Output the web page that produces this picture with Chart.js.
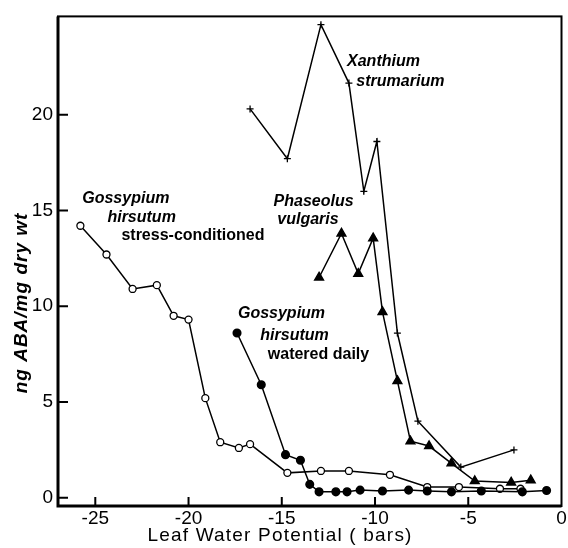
<!DOCTYPE html>
<html>
<head>
<meta charset="utf-8">
<script src="https://cdn.jsdelivr.net/npm/chart.js@4.4.1/dist/chart.umd.min.js"></script>
<style>
  html, body { margin: 0; padding: 0; background: #fff; }
  canvas { display: block; }
</style>
</head>
<body>
<canvas id="chart" width="568" height="548"></canvas>
<script>
// Axis ticks
const xTicks = [-25, -20, -15, -10, -5, 0];
const yTicks = [0, 5, 10, 15, 20];

// Gossypium hirsutum, stress-conditioned (open circles)
const stressX = [-25.8, -24.4, -23.0, -21.7, -20.8, -20.0, -19.1, -18.3, -17.3, -16.7, -14.7, -12.9, -11.4, -9.2, -7.2, -5.5, -3.3, -2.2];
const stressY = [14.2, 12.7, 10.9, 11.1, 9.5, 9.3, 5.2, 2.9, 2.6, 2.8, 1.3, 1.4, 1.4, 1.2, 0.56, 0.56, 0.47, 0.47];

// Gossypium hirsutum, watered daily (filled circles)
const wateredX = [-17.4, -16.1, -14.8, -14.0, -13.5, -13.0, -12.1, -11.5, -10.8, -9.6, -8.2, -7.2, -5.9, -4.3, -2.1, -0.8];
const wateredY = [8.6, 5.9, 2.25, 1.96, 0.7, 0.31, 0.31, 0.31, 0.4, 0.35, 0.4, 0.35, 0.31, 0.35, 0.31, 0.38];

// Xanthium strumarium (plus marks)
const xanthX = [-16.7, -14.7, -12.9, -11.4, -10.6, -9.9, -8.8, -7.7, -5.4, -2.55];
const xanthY = [20.3, 17.7, 24.7, 21.65, 16.0, 18.6, 8.6, 4.0, 1.6, 2.5];

// Phaseolus vulgaris (filled triangles)
const phasX = [-13.0, -11.8, -10.9, -10.1, -9.6, -8.8, -8.1, -7.1, -5.9, -4.65, -2.7, -1.65];
const phasY = [11.5, 13.8, 11.7, 13.55, 9.7, 6.1, 2.95, 2.7, 1.8, 0.87, 0.8, 0.92];

// Text labels (anchored in data units)
const notes = [
  { text: "Gossypium", x: -25.7, y: 15.6, font: "bold italic 16px 'Liberation Sans'", align: "left" },
  { text: "hirsutum", x: -24.35, y: 14.65, font: "bold italic 16px 'Liberation Sans'", align: "left" },
  { text: "stress-conditioned", x: -23.6, y: 13.7, font: "bold 16px 'Liberation Sans'", align: "left" },
  { text: "Xanthium", x: -11.5, y: 22.75, font: "bold italic 16px 'Liberation Sans'", align: "left" },
  { text: "strumarium", x: -11.0, y: 21.75, font: "bold italic 16px 'Liberation Sans'", align: "left" },
  { text: "Phaseolus", x: -11.15, y: 15.45, font: "bold italic 16px 'Liberation Sans'", align: "right" },
  { text: "vulgaris", x: -11.95, y: 14.5, font: "bold italic 16px 'Liberation Sans'", align: "right" },
  { text: "Gossypium", x: -17.35, y: 9.6, font: "bold italic 16px 'Liberation Sans'", align: "left" },
  { text: "hirsutum", x: -16.15, y: 8.45, font: "bold italic 16px 'Liberation Sans'", align: "left" },
  { text: "watered daily", x: -15.75, y: 7.5, font: "bold 16px 'Liberation Sans'", align: "left" },
];

const pts = (xs, ys) => xs.map((x, i) => ({ x, y: ys[i] }));

// Box frame, inward ticks, titles and the species notes.
const framePlugin = {
  id: "frame",
  afterDraw(chart) {
    const { ctx, chartArea: a, scales: { x, y } } = chart;
    ctx.save();
    ctx.strokeStyle = "#000";
    ctx.lineWidth = 2;
    ctx.strokeRect(a.left, a.top, a.right - a.left, a.bottom - a.top);
    // heavier bottom and left axes, as in the print
    ctx.lineWidth = 3;
    ctx.beginPath();
    ctx.moveTo(a.left, a.top);
    ctx.lineTo(a.left, a.bottom);
    ctx.lineTo(a.right, a.bottom);
    ctx.stroke();

    ctx.lineWidth = 2;
    ctx.beginPath();
    xTicks.forEach((v) => {
      const px = x.getPixelForValue(v);
      if (px < a.right - 2) {
        ctx.moveTo(px, a.bottom);
        ctx.lineTo(px, a.bottom - 9);
      }
    });
    yTicks.forEach((v) => {
      const py = y.getPixelForValue(v);
      ctx.moveTo(a.left, py);
      ctx.lineTo(a.left + 10, py);
    });
    ctx.stroke();

    ctx.fillStyle = "#000";
    ctx.textBaseline = "middle";
    notes.forEach((n) => {
      ctx.font = n.font;
      ctx.textAlign = n.align;
      ctx.fillText(n.text, x.getPixelForValue(n.x), y.getPixelForValue(n.y));
    });

    // axis titles
    ctx.textAlign = "center";
    ctx.font = "19px 'Liberation Sans'";
    ctx.letterSpacing = "1.2px";
    ctx.fillText("Leaf Water Potential ( bars)", 280, 536);
    ctx.translate(22, 303);
    ctx.rotate(-Math.PI / 2);
    ctx.font = "bold italic 19px 'Liberation Sans'";
    ctx.letterSpacing = "1px";
    ctx.fillText("ng ABA/mg dry wt", 0, 0);
    ctx.restore();
  },
};

const line = { showLine: true, borderColor: "#000", borderWidth: 1.5, pointBorderColor: "#000" };

new Chart(document.getElementById("chart"), {
  type: "scatter",
  data: {
    datasets: [
      { ...line, data: pts(xanthX, xanthY), pointStyle: "cross", pointRadius: 3.5, pointBorderWidth: 1.3 },
      { ...line, data: pts(phasX, phasY), pointStyle: "triangle", pointRadius: 5, pointBackgroundColor: "#000" },
      { ...line, data: pts(wateredX, wateredY), pointStyle: "circle", pointRadius: 3.8, pointBackgroundColor: "#000" },
      { ...line, data: pts(stressX, stressY), pointStyle: "circle", pointRadius: 3.5, pointBackgroundColor: "#fff", pointBorderWidth: 1.3 },
    ],
  },
  options: {
    responsive: false,
    animation: false,
    devicePixelRatio: 1,
    layout: { padding: { top: 14, right: 3, left: 0, bottom: 0 } },
    plugins: { legend: { display: false }, tooltip: { enabled: false } },
    scales: {
      x: {
        type: "linear",
        min: -27,
        max: 0,
        grid: { display: false, drawTicks: false },
        border: { display: false },
        afterBuildTicks: (s) => { s.ticks = xTicks.map((v) => ({ value: v })); },
        afterFit: (s) => { s.height = 42; },
        ticks: {
          color: "#000",
          padding: 1,
          font: { family: "'Liberation Sans'", size: 19 },
          callback: (v) => (v < 0 ? "-" + Math.abs(v) : String(v)),
        },
      },
      y: {
        type: "linear",
        min: -0.43,
        max: 25.13,
        grid: { display: false, drawTicks: false },
        border: { display: false },
        afterBuildTicks: (s) => { s.ticks = yTicks.map((v) => ({ value: v })); },
        afterFit: (s) => { s.width = 58; },
        ticks: {
          color: "#000",
          padding: 5,
          font: { family: "'Liberation Sans'", size: 19 },
        },
      },
    },
  },
  plugins: [framePlugin],
});
</script>
</body>
</html>
